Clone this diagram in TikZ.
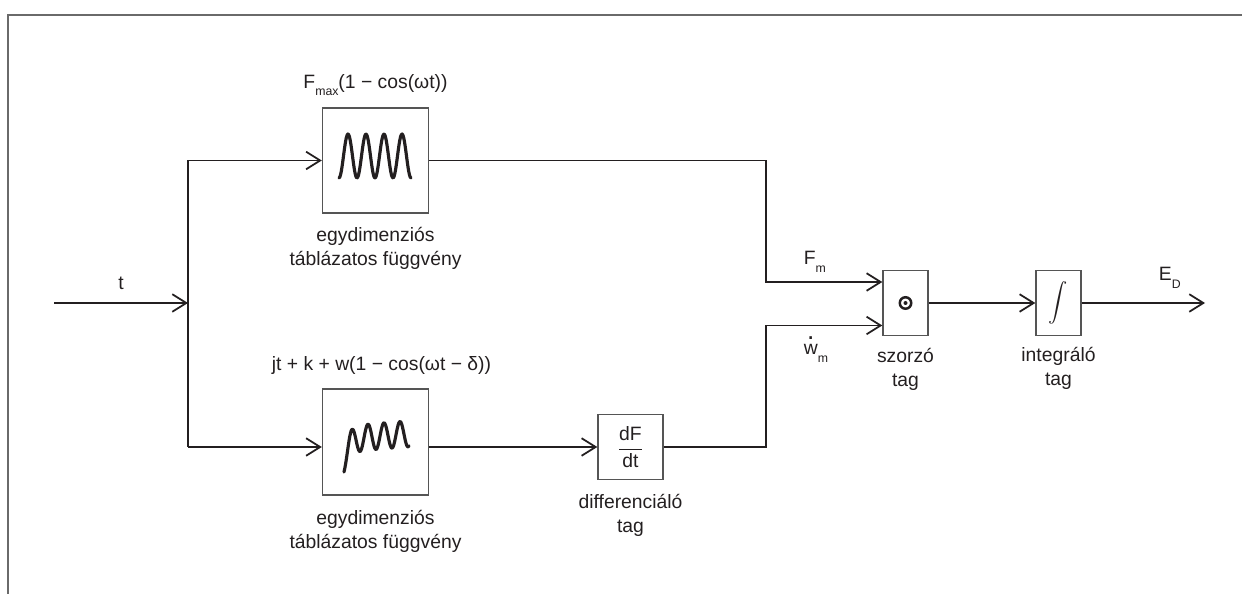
\documentclass[tikz,border=0pt]{standalone}
\usepackage{fontspec}
\setmainfont{Liberation Sans}
\usepackage{amsmath}
\usetikzlibrary{arrows.meta}
\usetikzlibrary{positioning}
\definecolor{boxgray}{HTML}{555555}
\definecolor{ink}{HTML}{231F20}
\definecolor{framegray}{HTML}{6A6A6A}
\newcommand{\lowsub}[1]{\raisebox{-4pt}{\fontsize{7}{8}\selectfont #1}}
\newcommand{\wdot}{\ooalign{w\cr\hidewidth\raisebox{1.55ex}{\fontsize{15}{15}\selectfont.}\hidewidth\cr}}

\begin{document}
\begin{tikzpicture}[x=0.02cm, y=-0.02cm, ink, line width=1pt,
    every node/.style={font=\fontsize{11}{13.6}\selectfont},
    main/.style={draw=boxgray, line width=0.8pt, inner sep=0pt},
    lbl/.style={align=center, inner sep=0pt},
    arr/.style={-{Straight Barb[length=8pt,width=10pt]}},
    wave/.style={line width=1.8pt, line cap=round, line join=round}]
    \useasboundingbox (0,0) rectangle (1242,594);
    \draw[framegray, line width=0.8pt] (8,594) -- (8,15) -- (1242,15);

    % blocks
    \node[main, minimum width=2.12cm, minimum height=2.1cm] (fmax) at (375.5,160.5) {};
    \node[main, minimum width=2.12cm, minimum height=2.12cm] (fjt) at (375.5,442) {};
    \node[main, minimum size=1.3cm] (diff) at (630.5,447) {$\dfrac{\text{dF}}{\text{dt}}$};
    \node[main, minimum width=0.9cm, minimum height=1.3cm] (mul) at (905.5,303) {};
    \node[main, minimum width=0.9cm, minimum height=1.3cm] (integ) at (1058.5,303) {$\displaystyle\int$};

    % texts
    \node[lbl, above=0.22cm of fmax] (fmaxlbl) {F\lowsub{max}(1 − cos(ωt))};
    \node[lbl, above=0.26cm of fjt, xshift=0.12cm] (fjtlbl) {jt + k + w(1 − cos(ωt − δ))};
    \node[lbl, below=0.26cm of fmax] (fmaxtxt) {egydimenziós\\táblázatos függvény};
    \node[lbl, below=0.28cm of fjt] (fjttxt) {egydimenziós\\táblázatos függvény};
    \node[lbl, below=0.26cm of diff] (difftxt) {differenciáló\\tag};
    \node[lbl, below=0.22cm of mul] (multxt) {szorzó\\tag};
    \node[lbl, below=0.2cm of integ] (integtxt) {integráló\\tag};
    \node (tlbl) at (121,283) {t};
    \node[anchor=base west, inner sep=0pt] (fm) at (803,265) {F\lowsub{m}};
    \node[anchor=base west, inner sep=0pt] (wm) at (803,355) {\wdot\lowsub{m}};
    \node[anchor=base west, inner sep=0pt] (ed) at (1158,281) {E\lowsub{D}};

    % points
    \coordinate (in) at (54,303);
    \coordinate (split) at (188,303);
    \coordinate (top) at (188,160.5);
    \coordinate (bot) at (188,447);
    \coordinate (out) at (1205,303);
    \coordinate (mula) at ([yshift=0.42cm]mul.west);
    \coordinate (mulb) at ([yshift=-0.45cm]mul.west);

    % connectors
    \draw[arr] (in) -- (split);
    \draw (top) -- (bot);
    \draw[arr] (top) -- (fmax.west);
    \draw[arr] (bot) -- (bot -| fjt.west);
    \draw[arr] (fjt.east |- bot) -- (diff.west);
    \draw[arr] (fmax.east) -- ++(337,0) |- (mula);
    \draw[arr] (diff.east) -- ++(102,0) |- (mulb);
    \draw[arr] (mul) -- (integ);
    \draw[arr] (integ) -- (out);

    % inside the blocks
    \draw[wave] plot[domain=339:411, samples=90] (\x, {178-22*(1-cos(20*(\x-339)))});
    \draw[wave] plot[domain=344:409, samples=90] (\x, {452-0.08*(\x-344)+20*exp(-(\x-344)/5)-13*(1-cos(22.5*(\x-344)))});
    \draw[line width=1.4pt] (mul.center) circle (0.115cm);
    \fill (mul.center) circle (0.04cm);
\end{tikzpicture}
\end{document}
